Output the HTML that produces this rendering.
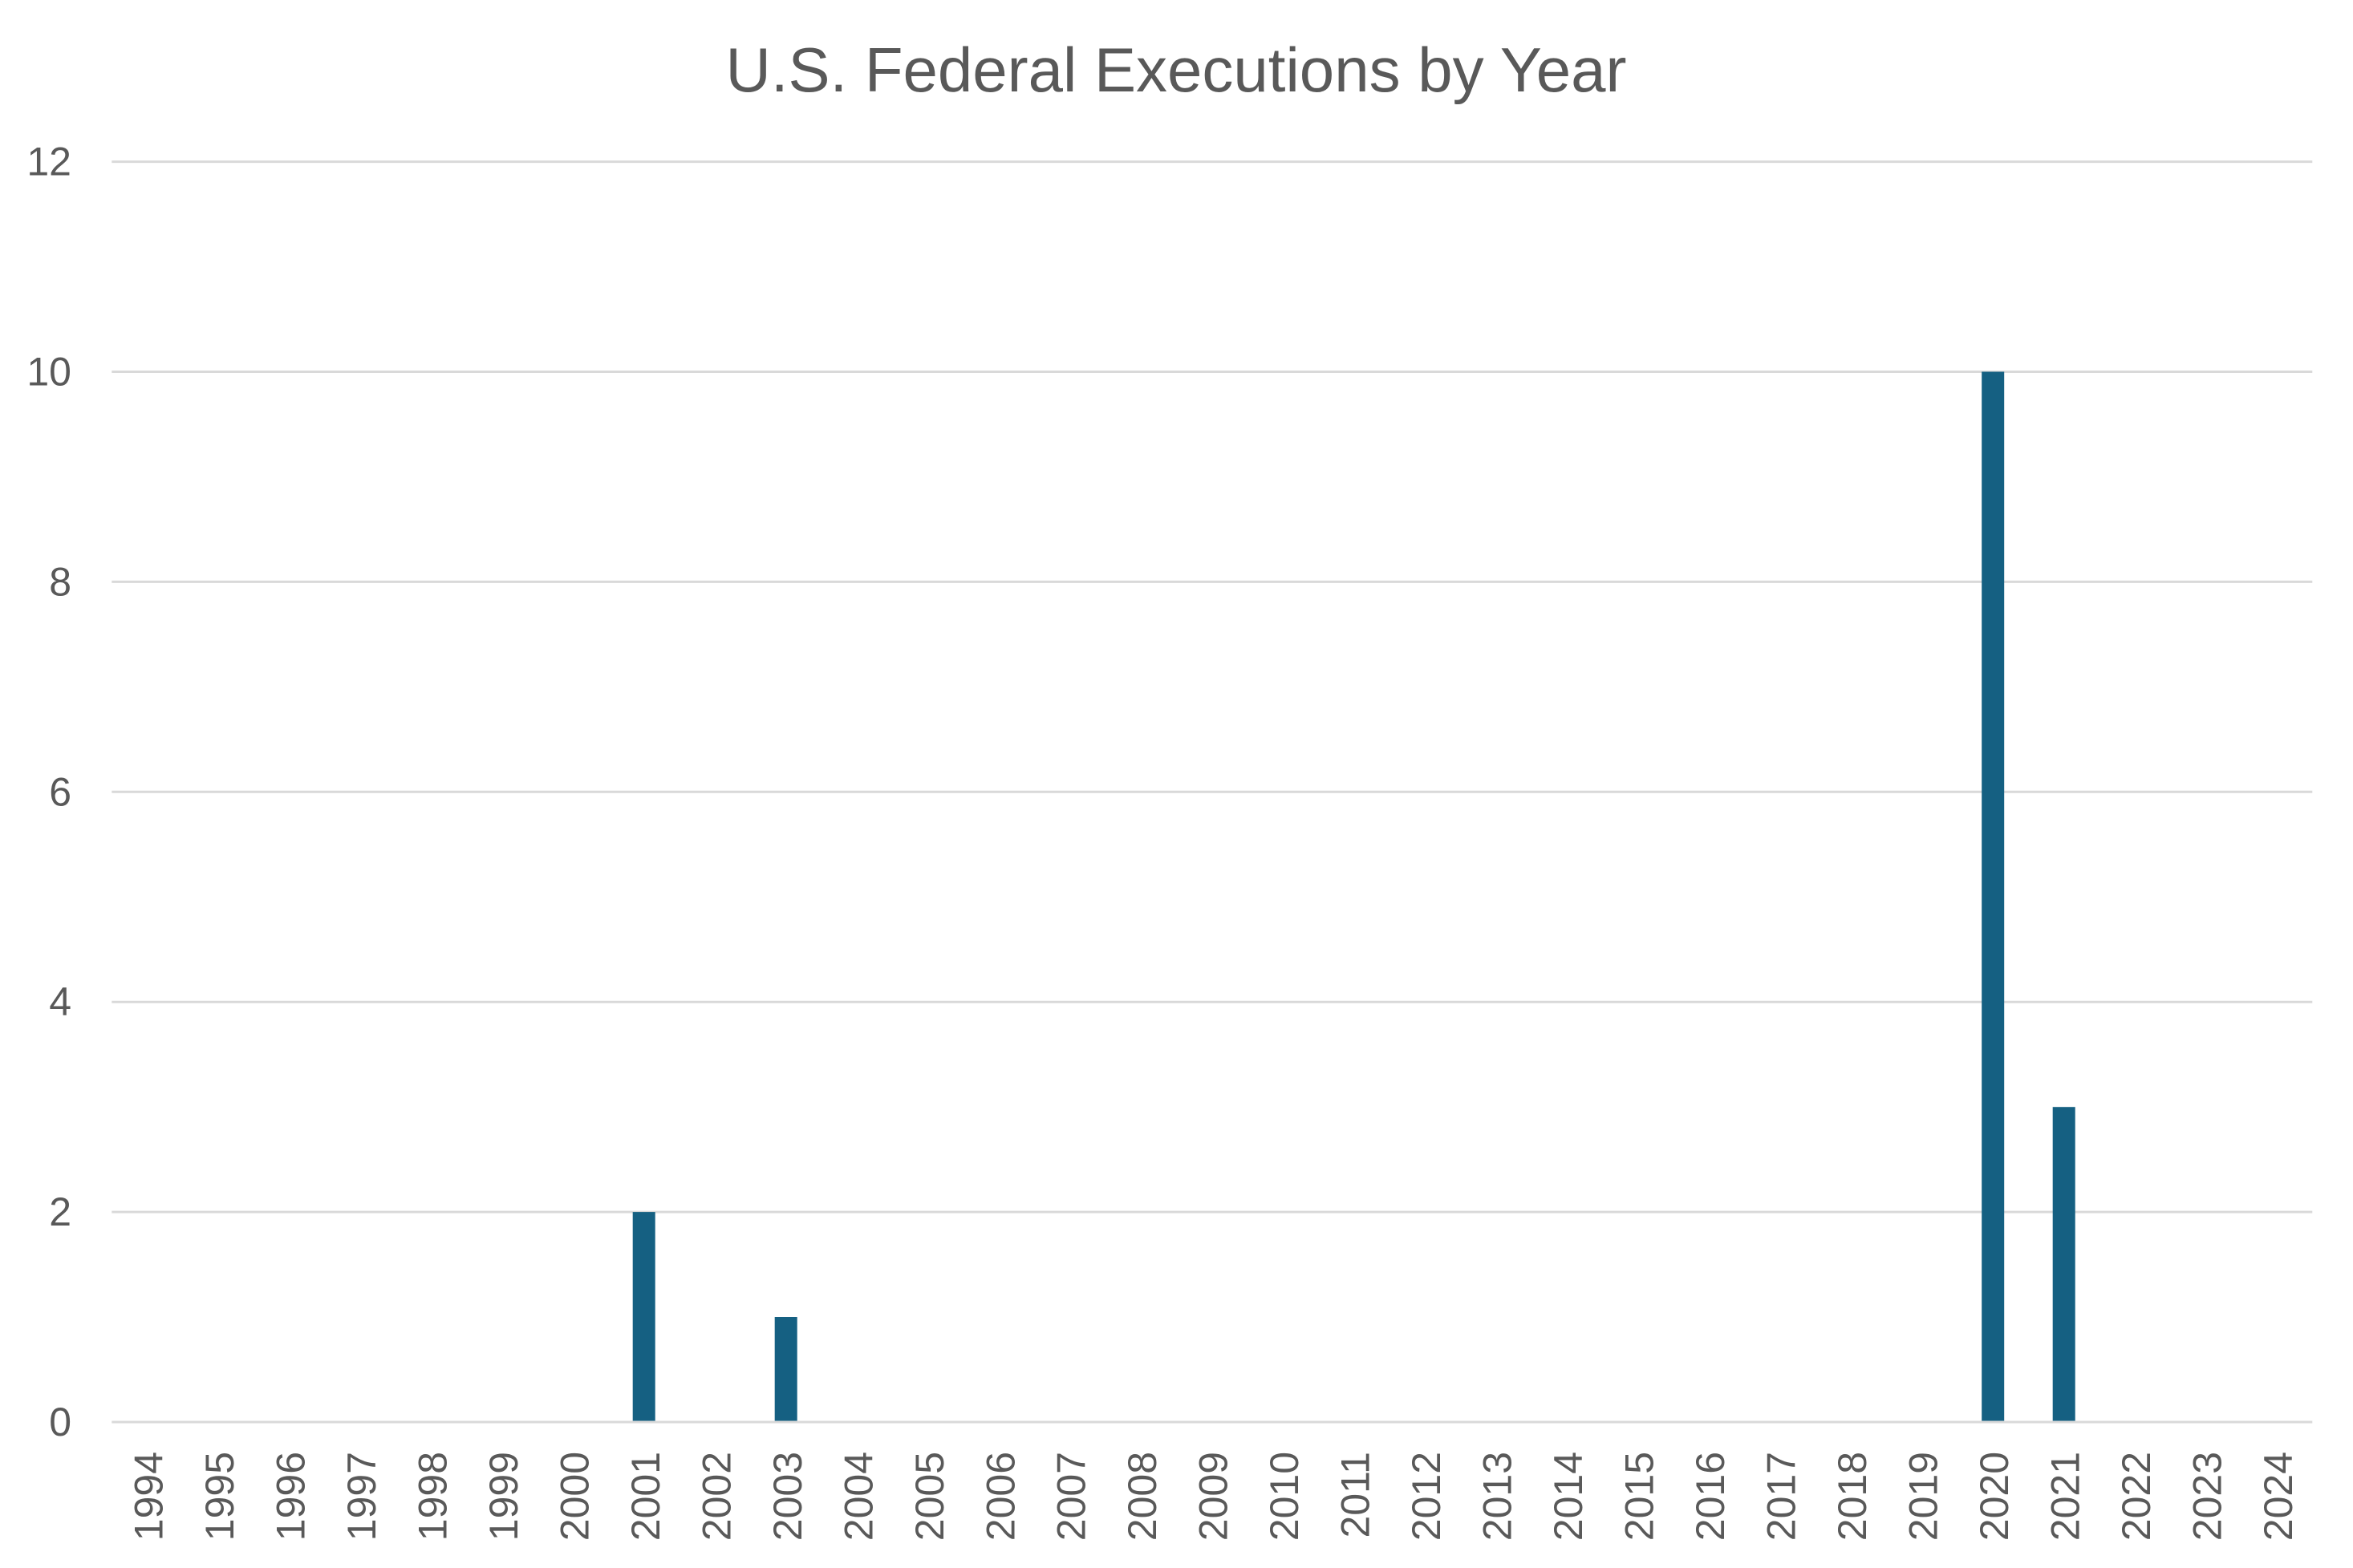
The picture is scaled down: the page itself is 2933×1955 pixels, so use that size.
<!DOCTYPE html>
<html>
<head>
<meta charset="utf-8">
<style>
  html, body { margin: 0; padding: 0; background: #ffffff; }
  svg { display: block; }
  text { font-family: "Liberation Sans", "DejaVu Sans", sans-serif; fill: #595959; }
</style>
</head>
<body>
<svg width="2933" height="1955" viewBox="0 0 2933 1955" xmlns="http://www.w3.org/2000/svg">
  <rect x="0" y="0" width="2933" height="1955" fill="#ffffff"/>
  <!-- Title -->
  <text x="1466" y="114" font-size="78" text-anchor="middle">U.S. Federal Executions by Year</text>

  <!-- Gridlines -->
  <g stroke="#d9d9d9" stroke-width="3">
    <line x1="139.3" y1="201.6" x2="2882.3" y2="201.6"/>
    <line x1="139.3" y1="463.5" x2="2882.3" y2="463.5"/>
    <line x1="139.3" y1="725.4" x2="2882.3" y2="725.4"/>
    <line x1="139.3" y1="987.3" x2="2882.3" y2="987.3"/>
    <line x1="139.3" y1="1249.2" x2="2882.3" y2="1249.2"/>
    <line x1="139.3" y1="1511.1" x2="2882.3" y2="1511.1"/>
    <line x1="139.3" y1="1773" x2="2882.3" y2="1773"/>
  </g>

  <!-- Y-axis labels -->
  <g font-size="50" text-anchor="end">
    <text x="89" y="218.6">12</text>
    <text x="89" y="480.5">10</text>
    <text x="89" y="742.4">8</text>
    <text x="89" y="1004.3">6</text>
    <text x="89" y="1266.2">4</text>
    <text x="89" y="1528.1">2</text>
    <text x="89" y="1790">0</text>
  </g>

  <!-- Bars -->
  <g fill="#156082">
    <rect x="788.7" y="1511.1" width="28" height="260.4"/>
    <rect x="965.7" y="1642" width="28" height="129.5"/>
    <rect x="2470.2" y="463.5" width="28" height="1308"/>
    <rect x="2558.7" y="1380.2" width="28" height="391.3"/>
  </g>

  <!-- X-axis labels -->
  <g font-size="50" text-anchor="end">
    <text transform="translate(202.5,1810) rotate(-90)">1994</text>
    <text transform="translate(291.0,1810) rotate(-90)">1995</text>
    <text transform="translate(379.5,1810) rotate(-90)">1996</text>
    <text transform="translate(467.9,1810) rotate(-90)">1997</text>
    <text transform="translate(556.4,1810) rotate(-90)">1998</text>
    <text transform="translate(644.9,1810) rotate(-90)">1999</text>
    <text transform="translate(733.4,1810) rotate(-90)">2000</text>
    <text transform="translate(821.9,1810) rotate(-90)">2001</text>
    <text transform="translate(910.3,1810) rotate(-90)">2002</text>
    <text transform="translate(998.8,1810) rotate(-90)">2003</text>
    <text transform="translate(1087.3,1810) rotate(-90)">2004</text>
    <text transform="translate(1175.8,1810) rotate(-90)">2005</text>
    <text transform="translate(1264.3,1810) rotate(-90)">2006</text>
    <text transform="translate(1352.7,1810) rotate(-90)">2007</text>
    <text transform="translate(1441.2,1810) rotate(-90)">2008</text>
    <text transform="translate(1529.7,1810) rotate(-90)">2009</text>
    <text transform="translate(1618.2,1810) rotate(-90)">2010</text>
    <text transform="translate(1706.7,1810) rotate(-90)">2011</text>
    <text transform="translate(1795.1,1810) rotate(-90)">2012</text>
    <text transform="translate(1883.6,1810) rotate(-90)">2013</text>
    <text transform="translate(1972.1,1810) rotate(-90)">2014</text>
    <text transform="translate(2060.6,1810) rotate(-90)">2015</text>
    <text transform="translate(2149.1,1810) rotate(-90)">2016</text>
    <text transform="translate(2237.5,1810) rotate(-90)">2017</text>
    <text transform="translate(2326.0,1810) rotate(-90)">2018</text>
    <text transform="translate(2414.5,1810) rotate(-90)">2019</text>
    <text transform="translate(2503.0,1810) rotate(-90)">2020</text>
    <text transform="translate(2591.5,1810) rotate(-90)">2021</text>
    <text transform="translate(2679.9,1810) rotate(-90)">2022</text>
    <text transform="translate(2768.4,1810) rotate(-90)">2023</text>
    <text transform="translate(2856.9,1810) rotate(-90)">2024</text>
  </g>
</svg>
</body>
</html>
